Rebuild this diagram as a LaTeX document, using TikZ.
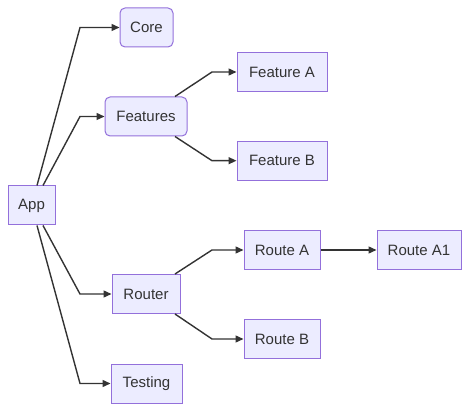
\documentclass[tikz,border=0pt]{standalone}
\usepackage{fontspec}
\setmainfont{Liberation Sans}
\usetikzlibrary{arrows.meta}
\definecolor{nodefill}{HTML}{ECECFF}
\definecolor{nodeborder}{HTML}{9370DB}
\definecolor{ink}{HTML}{333333}
\tikzset{
  box/.style={draw=nodeborder, fill=nodefill, line width=1pt, text=ink,
    font=\fontsize{15}{18}\selectfont, inner sep=0pt, minimum height=39pt},
  rbox/.style={box, rounded corners=5pt},
  arr/.style={draw=ink, line width=1.4pt, -{Triangle[length=8pt,width=7pt]}},
}
\begin{document}
\begin{tikzpicture}[x=1pt,y=-1pt]
\useasboundingbox (0,0) rectangle (468,411);
\node[box, minimum width=47pt] (app) at (31.5,205.5) {App};
\node[rbox, minimum width=53pt] (core) at (146.5,27.5) {Core};
\node[rbox, minimum width=82pt] (features) at (146,116.5) {Features};
\node[box, minimum width=68pt] (router) at (146,294) {Router};
\node[box, minimum width=71pt] (testing) at (146.5,383.5) {Testing};
\node[box, minimum width=90pt] (fa) at (282,72) {Feature A};
\node[box, minimum width=90pt] (fb) at (282,160.7) {Feature B};
\node[box, minimum width=76pt] (ra) at (282,250) {Route A};
\node[box, minimum width=84pt] (ra1) at (419,250) {Route A1};
\node[box, minimum width=76pt] (rb) at (282,339) {Route B};

\coordinate (b1) at (80,27.5);
\coordinate (b2) at (80,116.5);
\coordinate (b3) at (80,294);
\coordinate (b4) at (80,383.5);
\coordinate (b5) at (212,72);
\coordinate (b6) at (212,160.7);
\coordinate (b7) at (212,250);
\coordinate (b8) at (212,339);

\draw[arr] ([xshift=5.5pt]app.north) -- (b1) -- (core);
\draw[arr] ([xshift=11.5pt]app.north) -- (b2) -- (features);
\draw[arr] ([xshift=11.5pt]app.south) -- (b3) -- (router);
\draw[arr] ([xshift=5.5pt]app.south) -- (b4) -- (testing);
\draw[arr] ([xshift=29pt]features.north) -- (b5) -- (fa);
\draw[arr] ([xshift=29pt]features.south) -- (b6) -- (fb);
\draw[arr] ([xshift=29pt]router.north) -- (b7) -- (ra);
\draw[arr] ([xshift=29pt]router.south) -- (b8) -- (rb);
\draw[arr] (ra) -- (ra1);
\end{tikzpicture}
\end{document}
